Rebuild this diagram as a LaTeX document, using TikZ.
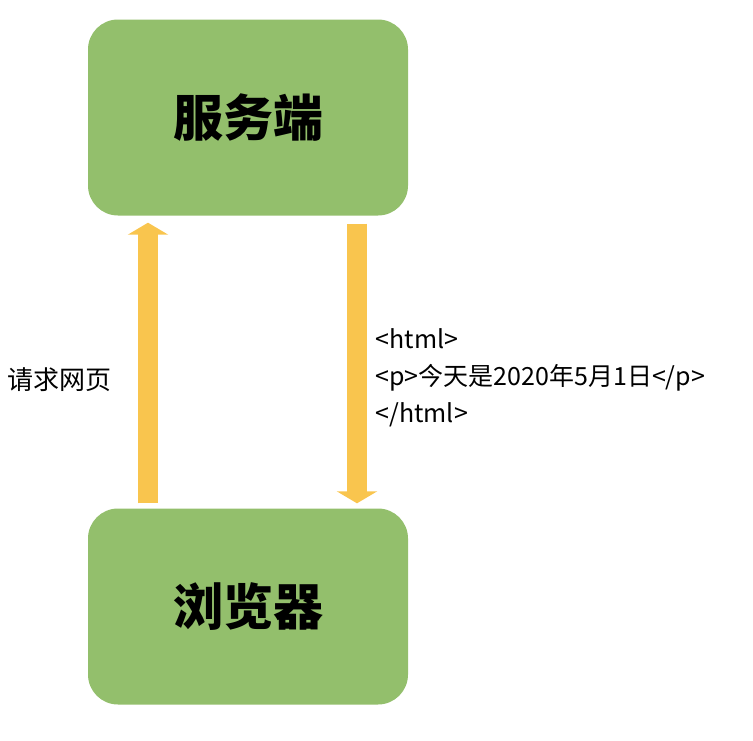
\documentclass[tikz,border=0pt]{standalone}
\usepackage{fontspec}
\newfontfamily\cjk{Noto Sans CJK SC}
\usetikzlibrary{arrows.meta}
\definecolor{boxgreen}{HTML}{93BF6C}
\definecolor{arrowy}{HTML}{F9C54E}
\begin{document}
\begin{tikzpicture}[x=1pt,y=-1pt,
  box/.style={fill=boxgreen,rounded corners=30pt,minimum width=320pt,minimum height=196pt,font=\cjk\fontsize{50}{54}\selectfont\bfseries},
  fat/.style={draw=arrowy,line width=20pt,-{Triangle[width=40pt,length=12pt]}},
  lbl/.style={font=\cjk\fontsize{26}{30}\selectfont,anchor=west}]
\useasboundingbox (0,0) rectangle (753,740);
\node[box] (srv) at (248,117.5) {服务端};
\node[box] (brw) at (248,606.5) {浏览器};
\draw[fat] ([xshift=-100pt]brw.north) ++(0,-5) coordinate (a1) -- ([xshift=-100pt,yshift=-7pt]srv.south);
\draw[fat] ([xshift=109pt,yshift=-8pt]srv.south) -- ([xshift=109pt,yshift=5pt]brw.north);
\node[lbl] (req) at (4,380) {请求网页};
\node[lbl,align=left,font=\cjk\fontsize{25}{37}\selectfont] (code) at (372,378) {<html>\\<p>今天是2020年5月1日</p>\\</html>};
\end{tikzpicture}
\end{document}
